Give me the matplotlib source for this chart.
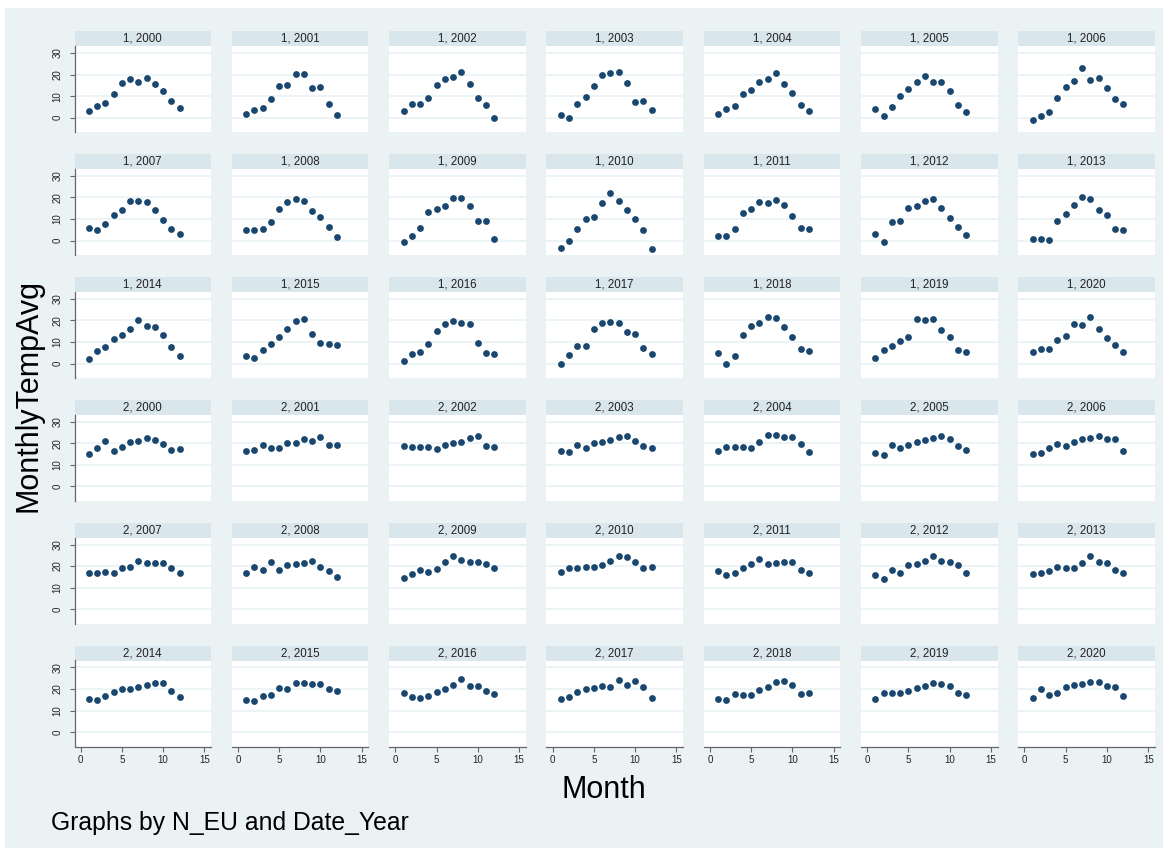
import matplotlib
matplotlib.use("Agg")
import matplotlib.pyplot as plt
from matplotlib.patches import Rectangle

plt.rcParams['font.family'] = ['Liberation Sans', 'DejaVu Sans']

months = list(range(1, 13))
years = list(range(2000, 2021))
groups = [1, 2]

# MonthlyTempAvg, N_EU == 1, one list per year 2000..2020
temps_eu1 = [
    [3.1, 5.4, 6.6, 10.8, 15.9, 17.8, 16.7, 18.4, 15.5, 12.2, 7.9, 4.5],
    [1.7, 3.4, 4.3, 8.5, 14.8, 15.1, 20.1, 20.4, 13.6, 14.2, 6.2, 1.2],
    [3.2, 6.5, 6.5, 9.1, 15.1, 17.9, 18.7, 21.0, 15.5, 9.1, 5.9, 0.0],
    [1.2, -0.3, 6.3, 9.7, 14.8, 19.8, 20.7, 21.3, 15.9, 7.1, 7.9, 3.6],
    [1.5, 4.0, 5.6, 10.8, 12.8, 16.7, 17.9, 20.6, 15.8, 11.3, 5.7, 3.1],
    [4.2, 0.9, 4.9, 10.0, 13.3, 16.4, 19.2, 16.5, 16.5, 12.4, 5.9, 2.6],
    [-1.2, 0.9, 2.5, 9.0, 14.1, 17.0, 22.9, 17.5, 18.5, 13.8, 8.5, 6.3],
    [5.9, 4.7, 7.6, 12.0, 14.3, 18.4, 18.4, 17.7, 14.2, 9.5, 5.6, 3.0],
    [5.1, 4.8, 5.4, 8.4, 14.8, 17.9, 19.4, 18.5, 13.8, 10.9, 6.2, 1.9],
    [-0.6, 2.0, 5.8, 13.2, 14.6, 16.0, 19.8, 19.9, 16.2, 9.2, 9.2, 0.8],
    [-3.4, 0.0, 5.6, 9.8, 11.0, 17.3, 22.1, 18.2, 14.0, 9.8, 5.1, -4.0],
    [2.2, 2.2, 5.3, 13.0, 14.8, 17.8, 17.5, 18.9, 16.7, 11.2, 5.8, 5.5],
    [3.3, -0.6, 8.6, 9.1, 15.0, 15.8, 18.3, 19.5, 15.0, 10.3, 6.4, 2.7],
    [0.8, 0.8, 0.2, 8.9, 12.5, 16.5, 20.2, 19.1, 14.4, 11.7, 5.5, 4.7],
    [2.3, 5.7, 7.7, 11.5, 13.1, 16.0, 20.2, 17.4, 16.8, 13.2, 7.7, 3.7],
    [3.4, 2.6, 6.3, 9.2, 12.5, 16.0, 19.5, 20.6, 13.8, 9.4, 9.1, 8.8],
    [1.2, 4.2, 5.2, 8.9, 14.9, 18.2, 19.7, 18.6, 18.5, 9.5, 4.8, 4.5],
    [0.0, 3.8, 8.2, 8.3, 15.9, 18.9, 19.2, 18.8, 14.8, 13.6, 7.0, 4.5],
    [4.8, -0.2, 3.6, 13.2, 17.6, 18.8, 21.5, 20.9, 16.7, 12.3, 6.7, 5.9],
    [2.4, 6.4, 8.3, 10.6, 12.4, 20.8, 20.0, 20.6, 15.5, 12.4, 6.2, 5.5],
    [5.5, 6.7, 6.7, 10.9, 12.7, 18.5, 17.7, 21.5, 15.8, 12.0, 8.5, 5.2],
]

# MonthlyTempAvg, N_EU == 2
temps_eu2 = [
    [14.8, 17.6, 21.0, 16.5, 18.4, 20.7, 21.0, 22.6, 21.3, 19.8, 17.0, 17.2],
    [16.2, 16.8, 19.2, 17.6, 17.6, 19.9, 20.2, 21.8, 21.0, 23.0, 19.0, 19.2],
    [18.7, 18.2, 18.2, 18.4, 17.5, 19.2, 19.9, 20.6, 22.3, 23.5, 18.7, 18.2],
    [16.2, 16.1, 19.2, 17.8, 20.2, 20.4, 21.6, 23.0, 23.2, 21.0, 18.5, 17.8],
    [16.5, 18.2, 18.2, 18.2, 17.7, 20.4, 23.6, 23.9, 22.7, 22.7, 19.5, 15.8],
    [15.5, 14.5, 19.3, 17.9, 19.0, 20.7, 21.6, 22.4, 23.2, 21.9, 18.5, 16.7],
    [14.8, 15.5, 18.0, 19.6, 18.7, 20.7, 21.8, 22.4, 23.5, 21.9, 21.9, 16.4],
    [17.0, 16.7, 17.3, 17.0, 19.3, 19.6, 22.6, 21.6, 21.5, 21.6, 19.3, 17.0],
    [16.8, 19.5, 18.2, 22.1, 18.4, 20.6, 21.2, 21.6, 22.3, 19.6, 17.8, 15.1],
    [14.4, 16.5, 18.1, 17.5, 18.5, 22.1, 24.7, 22.7, 21.9, 22.1, 20.9, 18.9],
    [17.2, 18.9, 19.0, 19.4, 19.4, 20.3, 22.3, 24.5, 24.2, 22.0, 19.2, 19.8],
    [17.7, 16.0, 16.9, 19.2, 21.2, 23.5, 20.8, 21.4, 22.0, 21.7, 18.2, 16.7],
    [15.7, 14.2, 18.1, 16.9, 20.6, 20.8, 22.3, 24.5, 22.3, 21.7, 20.6, 16.9],
    [16.2, 16.7, 17.9, 19.4, 19.0, 19.0, 21.6, 24.8, 22.0, 21.6, 18.3, 16.9],
    [15.4, 15.1, 16.7, 18.7, 20.1, 19.8, 21.0, 21.9, 22.7, 22.8, 18.9, 16.4],
    [14.8, 14.5, 17.0, 17.2, 20.5, 20.1, 22.7, 22.8, 22.2, 22.5, 19.9, 19.2],
    [18.3, 16.4, 15.8, 17.0, 18.6, 20.2, 21.9, 24.7, 21.2, 21.6, 19.2, 17.5],
    [15.5, 16.4, 18.7, 20.2, 20.3, 21.4, 21.1, 24.0, 22.0, 23.8, 20.8, 15.9],
    [15.3, 14.7, 17.7, 17.1, 17.4, 19.4, 20.9, 23.2, 23.8, 22.0, 17.7, 18.3],
    [15.4, 18.3, 18.2, 18.2, 19.2, 20.5, 21.2, 22.7, 22.1, 21.5, 18.3, 17.3],
    [15.7, 19.8, 17.4, 18.0, 20.8, 21.7, 22.1, 23.4, 23.4, 21.2, 20.8, 17.0],
]

ytick_vals = [0, 10, 20, 30]
xtick_vals = [0, 5, 10, 15]

# colours (Stata s2color look)
bg_col = '#EAF2F3'
head_col = '#D9E6EB'
grid_col = '#EAF2F3'
dot_col = '#1A476F'
axis_col = '#666666'

W, H = 1168, 852
fig = plt.figure(figsize=(W / 100, H / 100), dpi=100, facecolor='white')
fig.patches.append(Rectangle((5 / W, 4 / H), 1158 / W, 840 / H,
                             transform=fig.transFigure, facecolor=bg_col,
                             edgecolor='none', zorder=-5))

# panel grid in pixels
col_left0, col_pitch, panel_w = 74.5, 157.3, 136.5
row_top0, row_pitch, head_h, plot_h = 31, 122.9, 15, 86
ncols, nrows = 7, 6

for g, temps in zip(groups, [temps_eu1, temps_eu2]):
    for k, yr in enumerate(years):
        idx = (g - 1) * len(years) + k
        row, col = divmod(idx, ncols)
        left = col_left0 + col * col_pitch
        top = row_top0 + row * row_pitch

        # header strip
        hax = fig.add_axes([left / W, 1 - (top + head_h) / H, panel_w / W, head_h / H])
        hax.set_facecolor(head_col)
        hax.set_xticks([])
        hax.set_yticks([])
        for s in hax.spines.values():
            s.set_visible(False)
        hax.text(0.5, 0.5, f"{g}, {yr}", ha='center', va='center',
                 fontsize=8.3, color='#222222', transform=hax.transAxes)

        ax = fig.add_axes([left / W, 1 - (top + head_h + plot_h) / H,
                           panel_w / W, plot_h / H])
        ax.set_facecolor('white')
        ax.scatter(months, temps[k], s=24, color=dot_col, linewidths=0, zorder=3)
        ax.set_xlim(-0.75, 15.8)
        ax.set_ylim(-6.6, 33.2)
        ax.set_yticks(ytick_vals)
        ax.set_xticks(xtick_vals)
        ax.grid(axis='y', color=grid_col, lw=1.2, zorder=0)
        ax.set_axisbelow(True)
        for s in ax.spines.values():
            s.set_visible(False)

        if col == 0:
            ax.spines['left'].set_visible(True)
            ax.spines['left'].set_color(axis_col)
            ax.spines['left'].set_linewidth(0.9)
            ax.tick_params(axis='y', length=3.5, width=0.8, color=axis_col,
                           labelsize=7, labelcolor='#222222', pad=5,
                           labelrotation=90)
            for lbl in ax.get_yticklabels():
                lbl.set_va('center')
        else:
            ax.tick_params(axis='y', left=False, labelleft=False)

        if row == nrows - 1:
            ax.spines['bottom'].set_visible(True)
            ax.spines['bottom'].set_color(axis_col)
            ax.spines['bottom'].set_linewidth(0.9)
            ax.tick_params(axis='x', length=3.5, width=0.8, color=axis_col,
                           labelsize=7, labelcolor='#222222', pad=2.5)
        else:
            ax.tick_params(axis='x', bottom=False, labelbottom=False)

fig.text(29 / W, 1 - 395 / H, "MonthlyTempAvg", rotation=90, ha='center',
         va='center', fontsize=22, color='black')
fig.text(604 / W, 1 - 790 / H, "Month", ha='center', va='center',
         fontsize=22, color='black')
fig.text(51 / W, 1 - 823 / H, "Graphs by N_EU and Date_Year", ha='left',
         va='center', fontsize=17.8, color='black')

fig.savefig('out.png', dpi=100, facecolor=fig.get_facecolor())
